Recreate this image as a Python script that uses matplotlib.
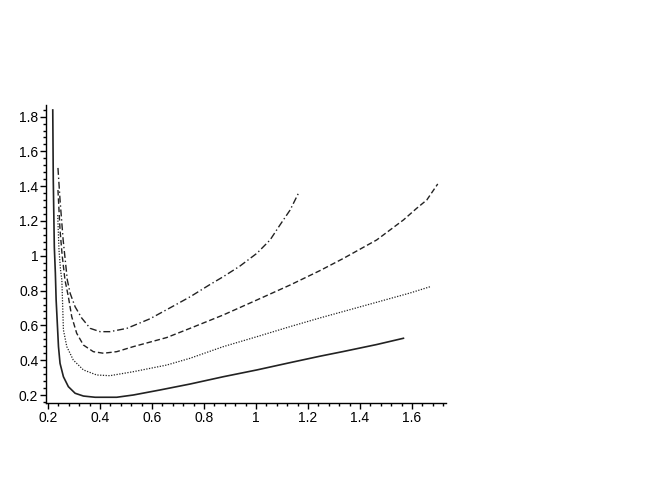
import matplotlib
matplotlib.use("Agg")
import matplotlib.pyplot as plt
from matplotlib.ticker import MultipleLocator, FuncFormatter

# Curve data
solid_x = [0.218, 0.220, 0.224, 0.228, 0.231, 0.240, 0.246, 0.259, 0.278, 0.304, 0.336, 0.381,
           0.464, 0.528, 0.631, 0.746, 0.874, 1.003, 1.131, 1.246, 1.336, 1.464, 1.567]
solid_y = [1.838, 1.436, 1.051, 0.901, 0.746, 0.478, 0.382, 0.305, 0.248, 0.210, 0.194, 0.187,
           0.187, 0.200, 0.229, 0.263, 0.305, 0.344, 0.386, 0.423, 0.450, 0.490, 0.526]

dotted_x = [0.237, 0.242, 0.248, 0.253, 0.259, 0.272, 0.297, 0.336, 0.387, 0.438, 0.528, 0.656,
            0.746, 0.874, 1.003, 1.131, 1.246, 1.336, 1.464, 1.592, 1.669]
dotted_y = [1.234, 1.033, 0.918, 0.861, 0.574, 0.478, 0.401, 0.344, 0.315, 0.311, 0.334, 0.372,
            0.411, 0.478, 0.535, 0.593, 0.643, 0.680, 0.733, 0.786, 0.822]

dashed_x = [0.238, 0.246, 0.254, 0.265, 0.278, 0.291, 0.310, 0.336, 0.374, 0.413, 0.464, 0.528,
            0.656, 0.746, 0.874, 1.003, 1.131, 1.246, 1.336, 1.464, 1.567, 1.618, 1.657, 1.699]
dashed_y = [1.378, 1.148, 1.005, 0.861, 0.765, 0.650, 0.555, 0.487, 0.449, 0.440, 0.449, 0.478,
            0.530, 0.583, 0.660, 0.746, 0.832, 0.915, 0.985, 1.091, 1.206, 1.273, 1.321, 1.413]

dashdot_x = [0.238, 0.246, 0.258, 0.274, 0.285, 0.304, 0.330, 0.362, 0.400, 0.438, 0.503, 0.592,
             0.695, 0.746, 0.823, 0.874, 0.938, 1.003, 1.054, 1.092, 1.131, 1.163]
dashdot_y = [1.505, 1.321, 1.091, 0.861, 0.784, 0.707, 0.641, 0.583, 0.564, 0.564, 0.583, 0.638,
             0.722, 0.764, 0.835, 0.880, 0.941, 1.014, 1.091, 1.177, 1.263, 1.359]

x_ticks = [0.2, 0.4, 0.6, 0.8, 1.0, 1.2, 1.4, 1.6]
y_ticks = [0.2, 0.4, 0.6, 0.8, 1.0, 1.2, 1.4, 1.6, 1.8]

plt.rcParams['font.family'] = ['Liberation Sans', 'DejaVu Sans']

fig = plt.figure(figsize=(6.64, 4.98), dpi=100)
ax = fig.add_axes([46/664, 95/498, (446-46)/664, (403-105)/498])

col = '#222222'
ax.plot(solid_x, solid_y, color=col, lw=1.2, linestyle='-')
ax.plot(dotted_x, dotted_y, color=col, lw=0.9, linestyle=(0, (1, 1.2)))
ax.plot(dashed_x, dashed_y, color=col, lw=1.0, linestyle=(0, (4, 2)))
ax.plot(dashdot_x, dashdot_y, color=col, lw=1.0, linestyle=(0, (5, 2, 1, 2)))

ax.set_xlim(0.192, 0.2 + (446 - 48) / 260)
ax.set_ylim(0.2 - (403 - 395) / 174, 0.2 + (395 - 105) / 174)

for s in ['top', 'right']:
    ax.spines[s].set_visible(False)
for s in ['left', 'bottom']:
    ax.spines[s].set_linewidth(1.0)

ax.set_xticks(x_ticks)
ax.set_yticks(y_ticks)
ax.xaxis.set_minor_locator(MultipleLocator(0.04))
ax.yaxis.set_minor_locator(MultipleLocator(0.04))
fmt = FuncFormatter(lambda v, p: '%g' % round(v, 2))
ax.xaxis.set_major_formatter(fmt)
ax.yaxis.set_major_formatter(fmt)
ax.tick_params(which='major', length=4, width=1, labelsize=10, pad=1.5)
ax.tick_params(which='minor', length=2, width=1)

fig.savefig('out.png', dpi=100)
